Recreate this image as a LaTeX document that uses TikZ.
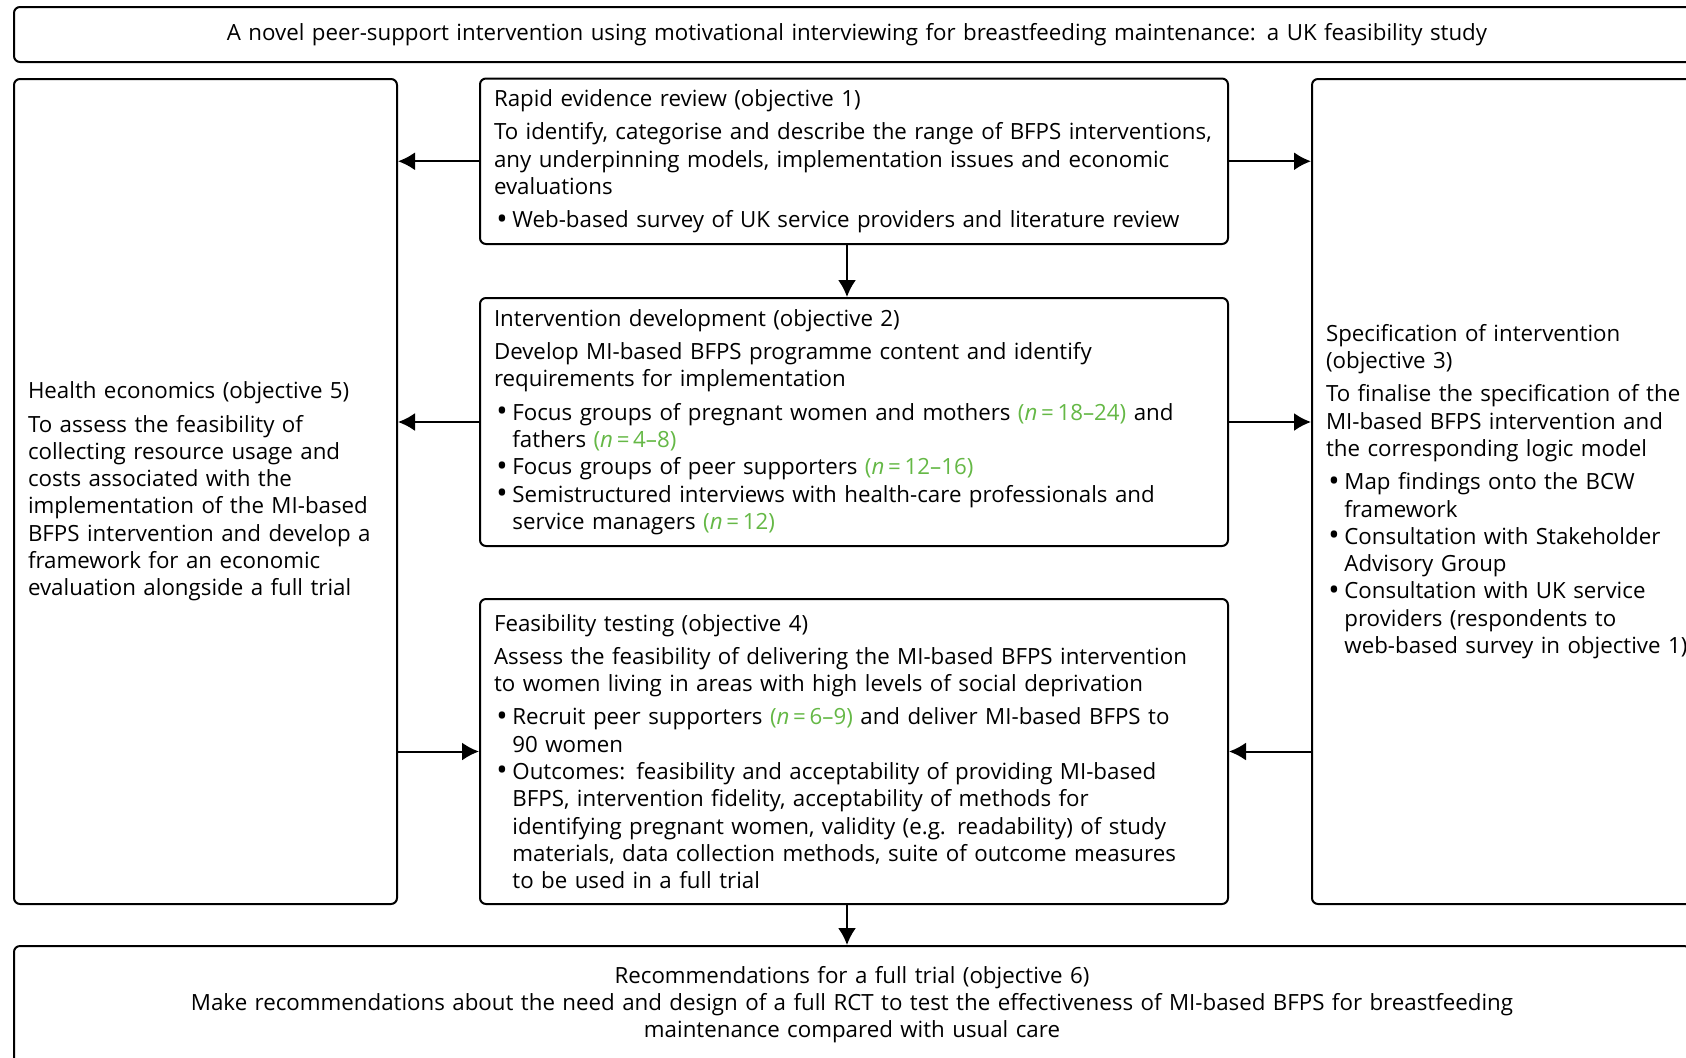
\documentclass[tikz,border=0pt]{standalone}
\usepackage{fontspec}
\setmainfont{Open Sans}
\usepackage{xcolor}
\usepackage{graphicx}
\usetikzlibrary{arrows.meta}
\definecolor{studygreen}{RGB}{101,184,70}
\newcommand{\nn}[1]{\textcolor{studygreen}{(\textit{n}\,=\,#1)}}
\newcommand{\bul}{\makebox[9.2pt][l]{\hspace{1.2pt}\raisebox{-0.7pt}{\scalebox{1.35}{\textbullet}}}}
\newcommand{\ind}{\hspace*{9.2pt}}
\tikzset{
    box/.style={draw, line width=1pt, rounded corners=3pt, inner xsep=7pt, inner ysep=0pt,
        align=left, font=\fontsize{11.15}{13.65}\selectfont},
    arr/.style={-{Latex[length=8.5pt,width=9pt]}, line width=1pt}
}

\begin{document}
\begin{tikzpicture}[x=0.5pt,y=-0.5pt]
    % Page frame (pixel units, y pointing down)
    \useasboundingbox (0,0) rectangle (1686,1057);
    \clip (0,0) rectangle (1686,1057);

    % Study title
    \node[box, align=center, text width=829pt, minimum height=27.5pt] (title) at (857,34.5)
        {A novel peer-support intervention using motivational interviewing for breastfeeding maintenance: a UK feasibility study};

    % Side boxes
    \node[box, text width=177.5pt, minimum height=412.5pt] (health) at (205.5,491.5) {
        Health economics (objective 5)\\[3pt]
        To assess the feasibility of\\
        collecting resource usage and\\
        costs associated with the\\
        implementation of the MI-based\\
        BFPS intervention and develop a\\
        framework for an economic\\
        evaluation alongside a full trial};

    \node[box, text width=200pt, minimum height=412.5pt] (spec) at (1526,491.5) {
        Specification of intervention\\
        (objective 3)\\[3pt]
        To finalise the specification of the\\
        MI-based BFPS intervention and\\
        the corresponding logic model\\[3pt]
        \bul Map findings onto the BCW\\
        \ind framework\\
        \bul Consultation with Stakeholder\\
        \ind Advisory Group\\
        \bul Consultation with UK service\\
        \ind providers (respondents to\\
        \ind web-based survey in objective 1)};

    % Central column
    \node[box, text width=360pt, minimum height=82.75pt] (review) at (854,161.25) {
        Rapid evidence review (objective 1)\\[3pt]
        To identify, categorise and describe the range of BFPS interventions,\\
        any underpinning models, implementation issues and economic\\
        evaluations\\[3pt]
        \bul Web-based survey of UK service providers and literature review};

    \node[box, text width=360pt, minimum height=124pt] (develop) at (854,422) {
        Intervention development (objective 2)\\[3pt]
        Develop MI-based BFPS programme content and identify\\
        requirements for implementation\\[3pt]
        \bul Focus groups of pregnant women and mothers \nn{18--24} and\\
        \ind fathers \nn{4--8}\\
        \bul Focus groups of peer supporters \nn{12--16}\\
        \bul Semistructured interviews with health-care professionals and\\
        \ind service managers \nn{12}};

    \node[box, text width=360pt, minimum height=152.5pt] (feasible) at (854,751.5) {
        Feasibility testing (objective 4)\\[3pt]
        Assess the feasibility of delivering the MI-based BFPS intervention\\
        to women living in areas with high levels of social deprivation\\[3pt]
        \bul Recruit peer supporters \nn{6--9} and deliver MI-based BFPS to\\
        \ind 90 women\\
        \bul Outcomes: feasibility and acceptability of providing MI-based\\
        \ind BFPS, intervention fidelity, acceptability of methods for\\
        \ind identifying pregnant women, validity (e.g. readability) of study\\
        \ind materials, data collection methods, suite of outcome measures\\
        \ind to be used in a full trial};

    % Final recommendations
    \node[box, align=center, text width=824pt, minimum height=58.5pt] (recommend) at (852,1004.5) {
        Recommendations for a full trial (objective 6)\\
        Make recommendations about the need and design of a full RCT to test the effectiveness of MI-based BFPS for breastfeeding\\
        maintenance compared with usual care};

    % Connectors
    \draw[arr] (review.west) -- (review.west -| health.east);
    \draw[arr] (review.east) -- (review.east -| spec.west);
    \draw[arr] ([xshift=-3.5pt]review.south) -- ([xshift=-3.5pt]develop.north);
    \draw[arr] (develop.west) -- (develop.west -| health.east);
    \draw[arr] (develop.east) -- (develop.east -| spec.west);
    \draw[arr] (health.east |- feasible.west) -- (feasible.west);
    \draw[arr] (spec.west |- feasible.east) -- (feasible.east);
    \draw[arr] ([xshift=-3.5pt]feasible.south) -- ([xshift=-3.5pt]feasible.south |- recommend.north);
\end{tikzpicture}
\end{document}
